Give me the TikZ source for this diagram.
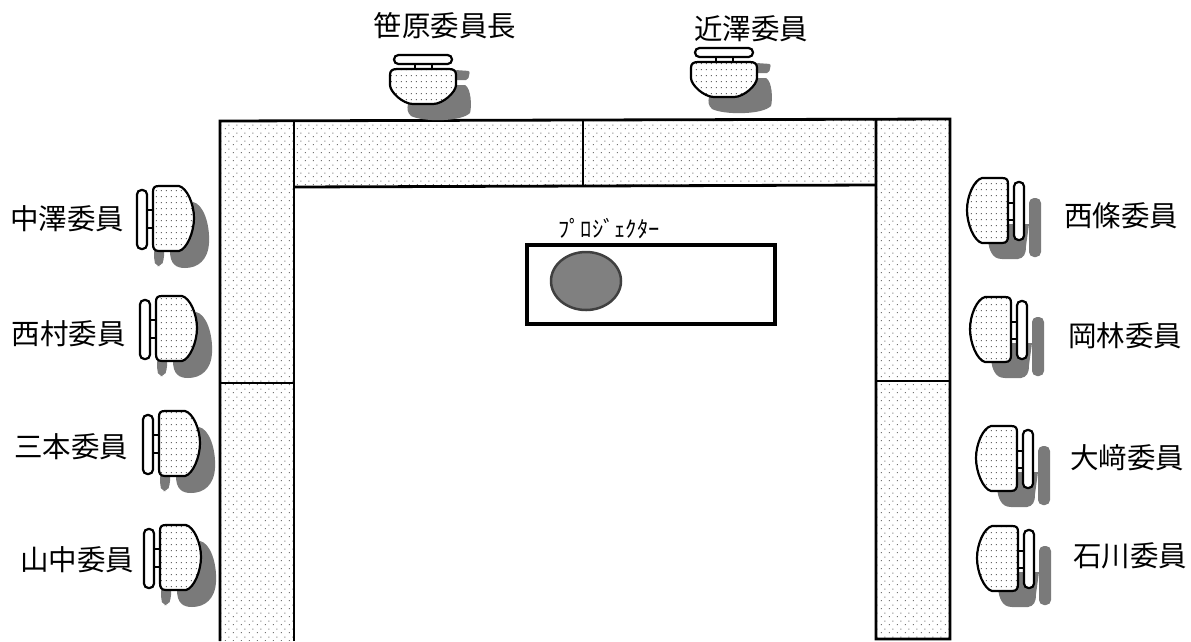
\documentclass[tikz,border=0pt]{standalone}
\usepackage{fontspec}
\setmainfont{Noto Sans CJK JP}
\usetikzlibrary{patterns}
\pgfdeclarepatternformonly{tabledots}{\pgfqpoint{0pt}{0pt}}{\pgfqpoint{8pt}{8pt}}{\pgfqpoint{8pt}{8pt}}{%
  \pgfpathrectangle{\pgfqpoint{1pt}{1pt}}{\pgfqpoint{1.1pt}{1.1pt}}%
  \pgfpathrectangle{\pgfqpoint{5pt}{5pt}}{\pgfqpoint{1.1pt}{1.1pt}}%
  \pgfusepath{fill}}
\pgfdeclarepatternformonly{seatdots}{\pgfqpoint{0pt}{0pt}}{\pgfqpoint{5pt}{6pt}}{\pgfqpoint{5pt}{6pt}}{%
  \pgfpathrectangle{\pgfqpoint{1pt}{1pt}}{\pgfqpoint{1.2pt}{1.2pt}}%
  \pgfusepath{fill}}
\tikzset{
  x=1pt,y=-1pt,
  tablefill/.style={pattern=tabledots,pattern color=black!55},
  tableline/.style={draw=black,line width=2.8pt},
  seatbox/.style={draw=black,line width=2.2pt,pattern=seatdots,pattern color=black!60},
  seatbase/.style={fill=white},
  backbox/.style={draw=black,line width=2.2pt,fill=white,rounded corners=4.4pt},
  linkline/.style={draw=black,line width=1.8pt},
  shadowblob/.style={fill=black!52,draw=none},
  namelabel/.style={font=\fontsize{28.5}{28.5}\selectfont,inner sep=0pt,anchor=center},
  leftchair/.pic={
    \path[shadowblob] (20,-16) .. controls (30,-14) and (37,5) .. (36,25) .. controls (35,42) and (25,50) .. (12,50) .. controls (3,50) and (-3,46) .. (-3,33) -- cycle;
    \path[shadowblob,rounded corners=4pt] (-19,30) -- (-9,30) -- (-9,42) -- (-12,48) -- (-17,48) -- (-19,42) -- cycle;
    \draw[linkline] (-26,-8) -- (-20,-8) (-26,10) -- (-20,10);
    \draw[backbox] (-36,-28) rectangle (-26,31);
    \path[seatbase] (-14,-32) -- (6,-32) .. controls (14,-30) and (21,-14) .. (21,0) .. controls (21,14) and (14,31) .. (6,33) -- (-14,33) .. controls (-19,33) and (-20,30) .. (-20,26) -- (-20,-26) .. controls (-20,-30) and (-19,-32) .. (-14,-32) -- cycle;
    \path[seatbox] (-14,-32) -- (6,-32) .. controls (14,-30) and (21,-14) .. (21,0) .. controls (21,14) and (14,31) .. (6,33) -- (-14,33) .. controls (-19,33) and (-20,30) .. (-20,26) -- (-20,-26) .. controls (-20,-30) and (-19,-32) .. (-14,-32) -- cycle;
  },
  rightchair/.pic={
    \path[shadowblob] (0,30) .. controls (1,40) and (4,49) .. (14,49) -- (30,49) .. controls (36,48) and (38,44) .. (38,36) -- (41,14) -- (20,14) -- cycle;
    \path[shadowblob,rounded corners=5pt] (41,-12) rectangle (53,47);
    \draw[linkline] (20,-7) -- (26,-7) (20,10) -- (26,10);
    \draw[backbox] (26,-28) rectangle (36,30);
    \path[seatbase] (14,-32) -- (-6,-32) .. controls (-14,-30) and (-21,-14) .. (-21,0) .. controls (-21,14) and (-14,31) .. (-6,33) -- (14,33) .. controls (19,33) and (20,30) .. (20,26) -- (20,-26) .. controls (20,-30) and (19,-32) .. (14,-32) -- cycle;
    \path[seatbox] (14,-32) -- (-6,-32) .. controls (-14,-30) and (-21,-14) .. (-21,0) .. controls (-21,14) and (-14,31) .. (-6,33) -- (14,33) .. controls (19,33) and (20,30) .. (20,26) -- (20,-26) .. controls (20,-30) and (19,-32) .. (14,-32) -- cycle;
  },
  topchair/.pic={
    \path[shadowblob] (30,-1) -- (42,-1) .. controls (48,2) and (49,20) .. (47,27)
      .. controls (38,36) and (0,36) .. (-12,30) .. controls (-16,26) and (-16,23) .. (-15,18) -- cycle;
    \path[shadowblob,rounded corners=2pt] (32,-16) -- (47,-15) -- (45,-6) -- (32,-6) -- cycle;
    \draw[linkline] (-8,-22) -- (-8,-17) (9,-22) -- (9,-17);
    \draw[backbox] (-29,-31) rectangle (29,-22);
    \path[seatbase] (-26,-17) -- (26,-17) .. controls (31,-17) and (33,-15) .. (33,-11) -- (33,-1) .. controls (33,6) and (20,18) .. (10,18) -- (-10,18) .. controls (-20,18) and (-33,6) .. (-33,-1) -- (-33,-11) .. controls (-33,-15) and (-31,-17) .. (-26,-17) -- cycle;
    \path[seatbox] (-26,-17) -- (26,-17) .. controls (31,-17) and (33,-15) .. (33,-11) -- (33,-1) .. controls (33,6) and (20,18) .. (10,18) -- (-10,18) .. controls (-20,18) and (-33,6) .. (-33,-1) -- (-33,-11) .. controls (-33,-15) and (-31,-17) .. (-26,-17) -- cycle;
  }
}
\begin{document}
\begin{tikzpicture}
\useasboundingbox[fill=white] (0,0) rectangle (1191,641);
% tables
\path[tablefill] (220,121) -- (950,119) -- (950,639) -- (876,639) -- (876,185) -- (294,187) -- (294,641) -- (220,641) -- cycle;
\draw[tableline] (220,641) -- (220,121) -- (950,119) -- (950,639) -- (876,639) -- (876,119);
\draw[tableline] (294,641) -- (294,121);
\draw[tableline] (294,187) -- (876,185);
\draw[tableline] (583,120) -- (583,186);
\draw[tableline] (220,383) -- (294,383);
\draw[tableline] (876,381) -- (950,381);
% projector
\draw[line width=4pt,draw=black,fill=white] (527,245) rectangle (775,324);
\draw[line width=2.5pt,draw=black!75,fill=black!50] (586,281) ellipse [x radius=35,y radius=29];
\node[inner sep=0pt,font=\fontsize{22.5}{22.5}\selectfont] (proj) at (609,229) {ﾌﾟﾛｼﾞｪｸﾀｰ};
% chairs
\pic at (173,218) {leftchair};
\pic at (176,328) {leftchair};
\pic at (179,443) {leftchair};
\pic at (180,557) {leftchair};
\pic at (988,210) {rightchair};
\pic at (991,329) {rightchair};
\pic at (997,458) {rightchair};
\pic at (998,558) {rightchair};
\pic at (423,86) {topchair};
\pic at (724,79) {topchair};
% labels
\node[namelabel] (a) at (445,26) {笹原委員長};
\node[namelabel] (b) at (751,29) {近澤委員};
\node[namelabel] (c) at (67,219) {中澤委員};
\node[namelabel] (d) at (69,334) {西村委員};
\node[namelabel] (e) at (71,447) {三本委員};
\node[namelabel] (f) at (77,560) {山中委員};
\node[namelabel] (g) at (1121,216) {西條委員};
\node[namelabel] (h) at (1125,336) {岡林委員};
\node[namelabel] (i) at (1127,458) {大﨑委員};
\node[namelabel] (j) at (1130,556) {石川委員};
\end{tikzpicture}
\end{document}
